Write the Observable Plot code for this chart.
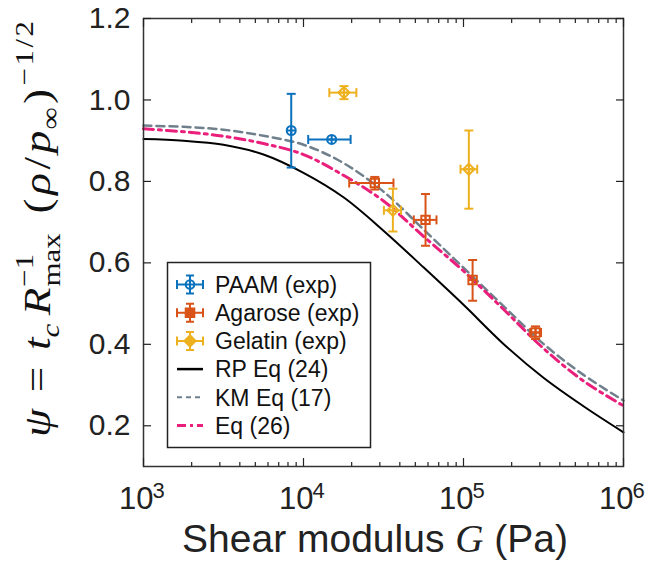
<!DOCTYPE html>
<html><head><meta charset="utf-8">
<script src="https://cdn.jsdelivr.net/npm/d3@7"></script>
<script src="https://cdn.jsdelivr.net/npm/@observablehq/plot@0.6"></script>
<style>body{margin:0;background:#fff}#chart{width:648px;height:572px}</style>
</head><body><div id="chart"></div>
<script>
// ---- model curves ----
const curveG = [1000, 1778, 3162, 5623, 10000, 17783, 31623, 56234, 100000, 177828, 316228, 562341, 1000000];
const rpEq24 = [0.904, 0.900, 0.890, 0.866, 0.821, 0.761, 0.679, 0.589, 0.497, 0.401, 0.318, 0.248, 0.184];
const kmEq17 = [0.937, 0.934, 0.927, 0.912, 0.890, 0.845, 0.775, 0.682, 0.588, 0.494, 0.401, 0.325, 0.262];
const eq26   = [0.929, 0.922, 0.911, 0.893, 0.866, 0.815, 0.752, 0.665, 0.580, 0.486, 0.390, 0.310, 0.249];

// ---- experiments ----
const paamG   = [8380, 15000];
const paamPsi = [0.925, 0.903];
const paamYLo = [0.834, 0.903];
const paamYHi = [1.015, 0.903];
const paamGLo = [8380, 10700];
const paamGHi = [8380, 19700];

const agaroseG   = [27900, 57900, 114000, 282000];
const agarosePsi = [0.796, 0.7055, 0.558, 0.429];
const agaroseYLo = [0.780, 0.642, 0.507, 0.413];
const agaroseYHi = [0.811, 0.769, 0.607, 0.444];
const agaroseGLo = [19300, 48900, 114000, 261000];
const agaroseGHi = [36500, 67800, 114000, 305000];

const gelatinG   = [17900, 36200, 108000];
const gelatinPsi = [1.018, 0.729, 0.830];
const gelatinYLo = [1.002, 0.677, 0.733];
const gelatinYHi = [1.034, 0.782, 0.925];
const gelatinGLo = [14500, 31800, 95800];
const gelatinGHi = [21400, 40700, 121800];

// ---- ticks & labels ----
const xMajorTicks = [1e3, 1e4, 1e5, 1e6];
const xMajorExp = ["3", "4", "5", "6"];
const xMinorTicks = [2e3,3e3,4e3,5e3,6e3,7e3,8e3,9e3,2e4,3e4,4e4,5e4,6e4,7e4,8e4,9e4,2e5,3e5,4e5,5e5,6e5,7e5,8e5,9e5];
const yTicks = [0.2, 0.4, 0.6, 0.8, 1.0, 1.2];
const legendLabels = ["PAAM (exp)", "Agarose (exp)", "Gelatin (exp)", "RP Eq (24)", "KM Eq (17)", "Eq (26)"];

const C = {paam: "#0a72bd", agarose: "#d95319", gelatin: "#edb120", rp: "#000000", km: "#6f808c", eq: "#ea1f7b"};

function rows(G, psi, yLo, yHi, gLo, gHi, color) {
  return G.map((g, i) => ({G: g, psi: psi[i], yLo: yLo[i], yHi: yHi[i], gLo: gLo[i], gHi: gHi[i], color}));
}
const paam = rows(paamG, paamPsi, paamYLo, paamYHi, paamGLo, paamGHi, C.paam);
const agarose = rows(agaroseG, agarosePsi, agaroseYLo, agaroseYHi, agaroseGLo, agaroseGHi, C.agarose);
const gelatin = rows(gelatinG, gelatinPsi, gelatinYLo, gelatinYHi, gelatinGLo, gelatinGHi, C.gelatin);
const allExp = [...paam, ...agarose, ...gelatin];
const curve = (ys) => curveG.map((g, i) => ({G: g, psi: ys[i]}));

// custom symbols
const hCap = {draw(ctx, size) { const w = Math.sqrt(size / Math.PI); ctx.moveTo(-w, 0); ctx.lineTo(w, 0); }};
const vCap = {draw(ctx, size) { const w = Math.sqrt(size / Math.PI); ctx.moveTo(0, -w); ctx.lineTo(0, w); }};
const circlePlus = {draw(ctx, size) { const r = Math.sqrt(size / Math.PI); ctx.moveTo(r, 0); ctx.arc(0, 0, r, 0, 2 * Math.PI); ctx.moveTo(-r, 0); ctx.lineTo(r, 0); ctx.moveTo(0, -r); ctx.lineTo(0, r); }};
const squarePlus = {draw(ctx, size) { const r = Math.sqrt(size / Math.PI); ctx.rect(-r, -r, 2 * r, 2 * r); ctx.moveTo(-r, 0); ctx.lineTo(r, 0); ctx.moveTo(0, -r); ctx.lineTo(0, r); }};
const diamondPlus = {draw(ctx, size) { const r = Math.sqrt(size / Math.PI) * 1.3; ctx.moveTo(0, -r); ctx.lineTo(r, 0); ctx.lineTo(0, r); ctx.lineTo(-r, 0); ctx.closePath(); ctx.moveTo(-r, 0); ctx.lineTo(r, 0); ctx.moveTo(0, -r); ctx.lineTo(0, r); }};

const hasY = allExp.filter(d => d.yHi > d.psi);
const hasX = allExp.filter(d => d.gHi > d.G);

const svg = Plot.plot({
  width: 648, height: 572,
  marginLeft: 143, marginRight: 25, marginTop: 18, marginBottom: 106,
  x: {type: "log", domain: [1e3, 1e6]},
  y: {domain: [0.1, 1.2]},
  color: {type: "identity"},
  style: {fontFamily: "'Liberation Sans', Arial, sans-serif", fontSize: "30px", color: "#222", background: "white"},
  marks: [
    // curves
    Plot.line(curve(rpEq24), {x: "G", y: "psi", stroke: C.rp, strokeWidth: 2, curve: "catmull-rom"}),
    Plot.line(curve(kmEq17), {x: "G", y: "psi", stroke: C.km, strokeWidth: 2.5, strokeDasharray: "8,5", curve: "catmull-rom"}),
    Plot.line(curve(eq26), {x: "G", y: "psi", stroke: C.eq, strokeWidth: 3, strokeDasharray: "10,5,3,5", curve: "catmull-rom"}),
    // error bars
    Plot.link(hasY, {x1: "G", x2: "G", y1: "yLo", y2: "yHi", stroke: "color", strokeWidth: 2}),
    Plot.link(hasX, {x1: "gLo", x2: "gHi", y1: "psi", y2: "psi", stroke: "color", strokeWidth: 2}),
    Plot.dot(hasY, {x: "G", y: "yHi", symbol: hCap, r: 4.5, stroke: "color", strokeWidth: 2}),
    Plot.dot(hasY, {x: "G", y: "yLo", symbol: hCap, r: 4.5, stroke: "color", strokeWidth: 2}),
    Plot.dot(hasX, {x: "gLo", y: "psi", symbol: vCap, r: 4.5, stroke: "color", strokeWidth: 2}),
    Plot.dot(hasX, {x: "gHi", y: "psi", symbol: vCap, r: 4.5, stroke: "color", strokeWidth: 2}),
    // markers
    Plot.dot(paam, {x: "G", y: "psi", symbol: circlePlus, r: 4.5, stroke: "color", fill: "none", strokeWidth: 2}),
    Plot.dot(agarose, {x: "G", y: "psi", symbol: squarePlus, r: 4.2, stroke: "color", fill: "none", strokeWidth: 2}),
    Plot.dot(gelatin, {x: "G", y: "psi", symbol: diamondPlus, r: 4.3, stroke: "color", fill: "none", strokeWidth: 2}),
    // frame and ticks
    Plot.frame({stroke: "#333", strokeWidth: 1.5}),
    Plot.axisX(xMajorTicks, {anchor: "bottom", tickSize: -8, tickFormat: () => "", label: null, strokeWidth: 1.2}),
    Plot.axisX(xMajorTicks, {anchor: "top", tickSize: -8, tickFormat: () => "", label: null, strokeWidth: 1.2}),
    Plot.axisX(xMinorTicks, {anchor: "bottom", tickSize: -4, tickFormat: () => "", label: null, strokeWidth: 1.2}),
    Plot.axisX(xMinorTicks, {anchor: "top", tickSize: -4, tickFormat: () => "", label: null, strokeWidth: 1.2}),
    Plot.axisY(yTicks, {anchor: "left", tickSize: -8, tickFormat: () => "", label: null, strokeWidth: 1.2}),
    Plot.axisY(yTicks, {anchor: "right", tickSize: -8, tickFormat: () => "", label: null, strokeWidth: 1.2}),
    Plot.axisY(yTicks, {anchor: "left", tickSize: 0, tickPadding: 13, tickFormat: d => d.toFixed(1), label: null, fontSize: 30}),
    // x tick labels 10^n
    Plot.text(xMajorTicks, {x: d => d, frameAnchor: "bottom", text: () => "10", textAnchor: "end", lineAnchor: "bottom", dx: 10, dy: 42, fontSize: 31, fill: "#222"}),
    Plot.text(xMajorTicks, {x: d => d, frameAnchor: "bottom", text: (d, i) => xMajorExp[i], textAnchor: "start", lineAnchor: "bottom", dx: 9, dy: 31, fontSize: 22, fill: "#222"})
  ]
});

document.getElementById("chart").appendChild(svg);
const s = d3.select(svg);

// y label
const yl = s.append("text")
  .attr("text-anchor", "middle").attr("font-family", "'Liberation Serif', 'DejaVu Serif', serif")
  .attr("font-size", 38).attr("fill", "#111");
const parts = [
  ["ψ", {it: 1}], ["=", {dx: 14}], ["t", {it: 1, dx: 14}], ["c", {it: 1, fs: 26, dy: 9}],
  ["R", {it: 1, dy: -9, dx: 7}], ["max", {fs: 26, dy: 10, dx: 1}], ["−1", {fs: 26, dx: -45, dy: -27}],
  ["(", {dx: 34, dy: 17}], ["ρ", {it: 1, dx: 3}], ["/", {dx: 3}], ["p", {it: 1, dx: 3}], ["∞", {fs: 26, dy: 9, dx: 1}],
  [")", {dy: -9, dx: 3}], ["−", {fs: 26, dy: -17, dx: 3}], ["1", {fs: 26, dx: 2}], ["/", {fs: 26, dx: 2}], ["2", {fs: 26, dx: 2}]
];
for (const [t, o] of parts) {
  const sp = yl.append("tspan").text(t);
  if (o.it) sp.attr("font-style", "italic");
  if (o.fs) sp.attr("font-size", o.fs);
  if (o.dx) sp.attr("dx", o.dx);
  if (o.dy) sp.attr("dy", o.dy);
}
const bb = yl.node().getBBox();
const k = bb.width > 0 ? 416 / bb.width : 1;
yl.attr("transform", `translate(50,229) rotate(-90) scale(${k},1)`);

// x label
const xl = s.append("text").attr("x", 375).attr("y", 552).attr("text-anchor", "middle")
  .attr("font-family", "'Liberation Sans', Arial, sans-serif").attr("font-size", 39).attr("fill", "#222");
xl.append("tspan").text("Shear modulus ");
xl.append("tspan").text("G").attr("font-family", "'Liberation Serif', serif").attr("font-style", "italic");
xl.append("tspan").text(" (Pa)");

// legend
const lg = s.append("g");
lg.append("rect").attr("x", 167.5).attr("y", 262.5).attr("width", 203).attr("height", 185)
  .attr("fill", "white").attr("stroke", "#222").attr("stroke-width", 1.5);
const legendColors = [C.paam, C.agarose, C.gelatin, C.rp, C.km, C.eq];
const legendDash = [null, null, null, null, "5,4", "9,4,3,4"];
const legendWidth = [2, 2, 2, 2.5, 2, 3];
const symPath = [circlePlus, squarePlus, diamondPlus];
legendLabels.forEach((lab, i) => {
  const cy = 284.5 + i * 28.2, x0 = 177, x1 = 203, cx = 190;
  const col = legendColors[i];
  const g = lg.append("g");
  if (i < 3) {
    const p = d3.path();
    p.moveTo(x0, cy); p.lineTo(x1, cy);
    p.moveTo(x0, cy - 4.5); p.lineTo(x0, cy + 4.5);
    p.moveTo(x1, cy - 4.5); p.lineTo(x1, cy + 4.5);
    p.moveTo(cx, cy - 9); p.lineTo(cx, cy + 9);
    p.moveTo(cx - 4, cy - 9); p.lineTo(cx + 4, cy - 9);
    p.moveTo(cx - 4, cy + 9); p.lineTo(cx + 4, cy + 9);
    g.append("path").attr("d", p.toString()).attr("stroke", col).attr("stroke-width", 2).attr("fill", "none");
    const sp = d3.path();
    symPath[i].draw(sp, Math.PI * 4.3 * 4.3);
    g.append("path").attr("d", sp.toString()).attr("transform", `translate(${cx},${cy})`)
      .attr("stroke", col).attr("stroke-width", 2).attr("fill", i === 0 ? "white" : col);
  } else {
    g.append("line").attr("x1", x0).attr("x2", x1).attr("y1", cy).attr("y2", cy)
      .attr("stroke", col).attr("stroke-width", legendWidth[i]).attr("stroke-dasharray", legendDash[i]);
  }
  lg.append("text").attr("x", 215).attr("y", cy + 8.3).attr("text-anchor", "start").text(lab)
    .attr("font-family", "'Liberation Sans', Arial, sans-serif").attr("font-size", 23).attr("fill", "#111");
});
</script>
</body></html>
